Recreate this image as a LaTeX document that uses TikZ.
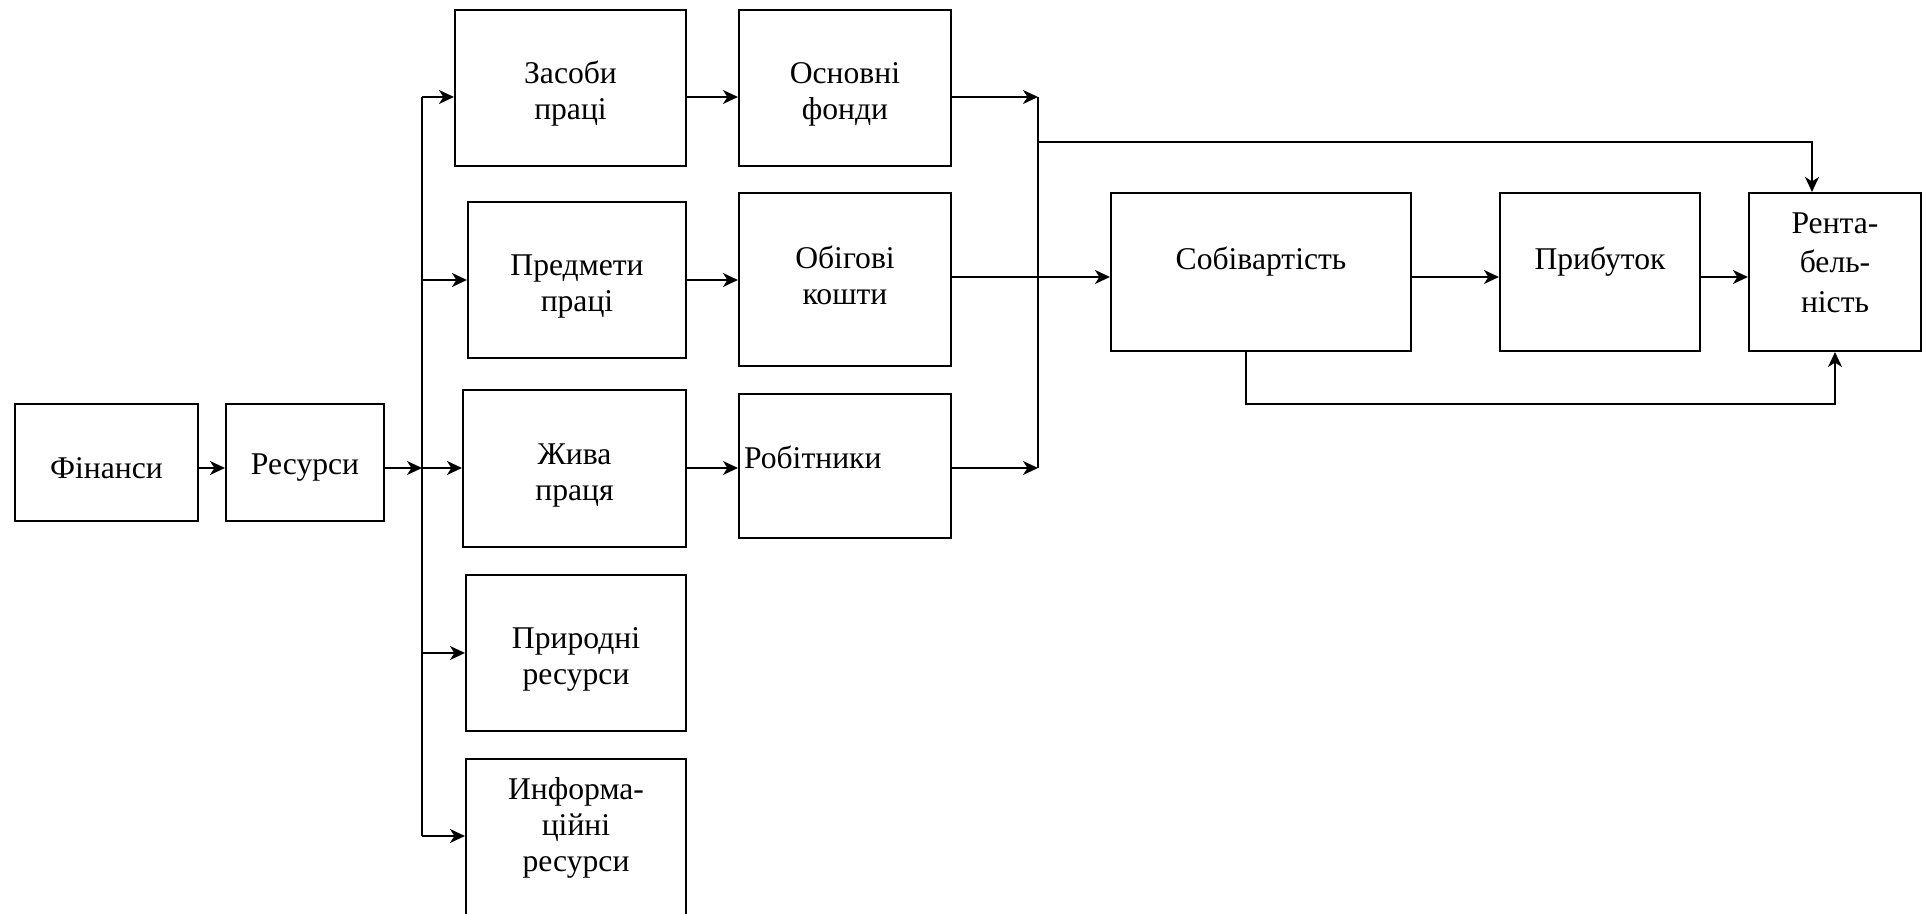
\documentclass[tikz,border=0pt]{standalone}
\usepackage{fontspec}
\setmainfont{Liberation Serif}
\usetikzlibrary{arrows.meta}

\begin{document}
\begin{tikzpicture}[x=0.2mm, y=-0.2mm, line width=1.1pt,
    box/.style={draw, line width=1.2pt, align=center, inner sep=0pt,
      font=\fontsize{18}{20.5}\selectfont},
    arr/.style={-{Stealth[length=3mm, width=2.8mm, inset=0.9mm]}}]
    \path[use as bounding box, clip] (0,0) rectangle (1930,914);

    % ресурси
    \node[box, minimum width=36.6mm, minimum height=23.4mm, text height=18pt] (fin) at (106.5,462.5) {Фінанси};
    \node[box, minimum width=31.6mm, minimum height=23.4mm, text height=18pt] (res) at (305,462.5) {Ресурси};
    \node[box, minimum width=46.2mm, minimum height=31.2mm, text height=40pt] (zasoby) at (570.5,88) {Засоби\\праці};
    \node[box, minimum width=43.6mm, minimum height=31.2mm, text height=40pt] (predmety) at (577,280) {Предмети\\праці};
    \node[box, minimum width=44.6mm, minimum height=31.4mm, text height=40pt] (zhyva) at (574.5,468.5) {Жива\\праця};
    \node[box, minimum width=44mm, minimum height=31.2mm, text height=40pt] (pryrodni) at (576,653) {Природні\\ресурси};
    \node[box, minimum width=44mm, minimum height=35.2mm, text depth=26pt] (inform) at (576,847) {Информа-\\ційні\\ресурси};

    % фонди
    \node[box, minimum width=42.4mm, minimum height=31.2mm, text height=40pt] (osnovni) at (845,88) {Основні\\фонди};
    \node[box, minimum width=42.4mm, minimum height=34.6mm, text depth=4.5pt] (obigovi) at (845,279.5) {Обігові\\кошти};
    \node[box, minimum width=42.4mm, minimum height=28.8mm, text width=40.4mm, align=left, text depth=10pt] (robitnyky) at (845,466) {Робітники};

    % результати
    \node[box, minimum width=60mm, minimum height=31.6mm, text depth=16pt] (sobiv) at (1261,272) {Собівартість};
    \node[box, minimum width=40mm, minimum height=31.6mm, text depth=16pt] (prybutok) at (1600,272) {Прибуток};
    \node[box, minimum width=34.4mm, minimum height=31.6mm, text depth=11pt,
      font=\fontsize{18}{22.5}\selectfont] (rent) at (1835,272) {Рента-\\бель-\\ність};

    % шини
    \coordinate (lt) at (422,97);
    \coordinate (lm) at (422,468);
    \coordinate (lb) at (422,836);
    \coordinate (rt) at (1038,97);
    \coordinate (rk) at (1038,142);
    \coordinate (rm) at (1038,277);
    \coordinate (rb) at (1038,468);
    \coordinate (kr) at (1812,142);
    \coordinate (lp) at (1246,404);

    \draw[arr] (fin.east |- lm) -- (res.west |- lm);
    \draw[arr] (res.east |- lm) -- (lm);
    \draw (lt) -- (lb);
    \draw[arr] (lt) -- (zasoby.west |- lt);
    \draw[arr] (predmety.west -| lt) -- (predmety.west);
    \draw[arr] (lm) -- (zhyva.west |- lm);
    \draw[arr] (pryrodni.west -| lt) -- (pryrodni.west);
    \draw[arr] (lb) -- (inform.west |- lb);

    \draw[arr] (zasoby.east |- lt) -- (osnovni.west |- lt);
    \draw[arr] (predmety.east) -- (predmety.east -| obigovi.west);
    \draw[arr] (zhyva.east |- lm) -- (robitnyky.west |- lm);

    \draw[arr] (osnovni.east |- rt) -- (rt);
    \draw[arr] (robitnyky.east |- rb) -- (rb);
    \draw (rt) -- (rb);

    \draw[arr] (obigovi.east |- rm) -- (sobiv.west |- rm);
    \draw[arr] (sobiv.east |- rm) -- (prybutok.west |- rm);
    \draw[arr] (prybutok.east |- rm) -- (rent.west |- rm);

    % зворотні лінії
    \draw[arr] (rk) -- (kr) -- (kr |- rent.north);
    \draw[arr] (lp |- sobiv.south) -- (lp) -| (rent.south);
\end{tikzpicture}
\end{document}
